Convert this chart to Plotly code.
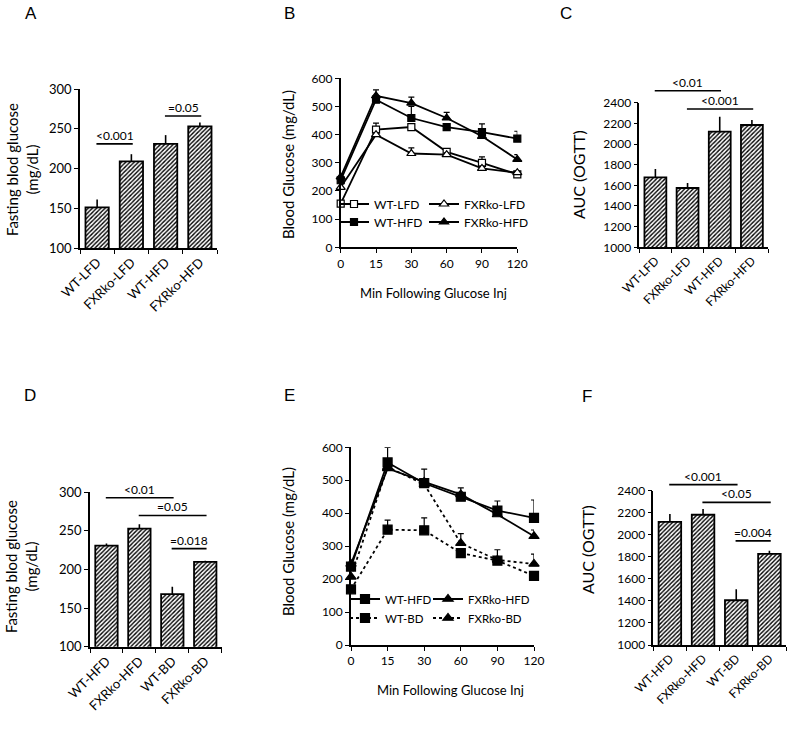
import plotly.graph_objects as go

# ---------------- data ----------------
cats_AC = ["WT-LFD", "FXRko-LFD", "WT-HFD", "FXRko-HFD"]
cats_DF = ["WT-HFD", "FXRko-HFD", "WT-BD", "FXRko-BD"]
times = ["0", "15", "30", "60", "90", "120"]

A_vals = [151, 209, 231, 253]
A_err = [10, 9, 11, 5]
C_vals = [1677, 1574, 2119, 2184]
C_err = [81, 49, 146, 48]
D_vals = [231, 253, 168, 210]
D_err = [2.6, 5.7, 9.5, 1.3]
F_vals = [2118, 2182, 1406, 1827]
F_err = [70, 51, 100, 28]

B_wt_lfd = [155, 418, 427, 339, 300, 259]
B_wt_lfd_err = [0, 23, 8, 10, 21, 6]
B_fxr_lfd = [213, 400, 333, 329, 280, 265]
B_fxr_lfd_err = [0, 6, 20, 6, 8, 5]
B_wt_hfd = [238, 524, 459, 427, 409, 386]
B_wt_hfd_err = [0, 8, 41, 8, 29, 26]
B_fxr_hfd = [250, 538, 512, 459, 394, 312]
B_fxr_hfd_err = [0, 21, 21, 20, 8, 17]

E_wt_hfd = [238, 554, 491, 450, 408, 386]
E_wt_hfd_err = [0, 46, 43, 12, 29, 54]
E_fxr_hfd = [246, 536, 495, 457, 396, 330]
E_fxr_hfd_err = [0, 8, 10, 20, 8, 19]
E_wt_bd = [169, 350, 348, 279, 256, 210]
E_wt_bd_err = [0, 29, 38, 6, 33, 6]
E_fxr_bd = [207, 540, 488, 309, 258, 246]
E_fxr_bd_err = [0, 8, 10, 29, 6, 30]

# significance brackets: (from index, to index, label, bracket height)
A_sig = [(0, 1, "<0.001", 231), (2, 3, "=0.05", 266)]
C_sig = [(0, 2, "<0.01", 2516), (1, 3, "<0.001", 2339)]
D_sig = [(0, 2, "<0.01", 293), (1, 3, "=0.05", 270), (2, 3, "=0.018", 227)]
F_sig = [(0, 2, "<0.001", 2455), (1, 3, "<0.05", 2294), (2, 3, "=0.004", 1945)]

# ---------------- layout helpers ----------------
W, H = 800, 742
FONT = "Lato"


def px_x(x):
    return x / W


def px_y(y):
    return 1 - y / H


def dom_x(a, b):
    return [px_x(a), px_x(b)]


def dom_y(top, bottom):
    return [px_y(bottom), px_y(top)]


fig = go.Figure()

AX = dict(showline=True, linecolor="black", linewidth=1.6, ticks="outside",
          ticklen=4, tickwidth=1.4, tickcolor="black", showgrid=False,
          zeroline=False, automargin=False,
          tickfont=dict(family=FONT, size=12, color="black"))

panels = {
    "A": ("x", "y", (80, 217), (89, 248)),
    "B": ("x2", "y2", (340.7, 517.3), (78.3, 247.3)),
    "C": ("x3", "y3", (639.3, 768), (102.7, 247.3)),
    "D": ("x4", "y4", (90, 221.7), (492.3, 646.7)),
    "E": ("x5", "y5", (351, 534), (447.3, 645)),
    "F": ("x6", "y6", (653.3, 786), (490.7, 645)),
}

bar_specs = {
    "A": (cats_AC, A_vals, A_err, [100, 300], 50, A_sig, 13),
    "C": (cats_AC, C_vals, C_err, [1000, 2400], 200, C_sig, 12),
    "D": (cats_DF, D_vals, D_err, [100, 300], 50, D_sig, 13),
    "F": (cats_DF, F_vals, F_err, [1000, 2400], 200, F_sig, 12),
}

shapes = []
annotations = []

for name, (cats, vals, err, rng, dtick, sigs, fs) in bar_specs.items():
    xk, yk, xd, yd = panels[name]
    fig.add_trace(go.Bar(
        x=cats, y=vals, xaxis=xk, yaxis=yk, width=0.68, showlegend=False,
        marker=dict(color="white", line=dict(color="black", width=1.8),
                    pattern=dict(shape="/", fgcolor="black", bgcolor="white",
                                 size=3, solidity=0.45)),
        error_y=dict(type="data", symmetric=False, array=err,
                     arrayminus=[0] * len(err), color="black", thickness=1.6,
                     width=0),
    ))
    n = len(cats)
    xlay = dict(AX, domain=dom_x(*xd), anchor=yk, type="category",
                range=[-0.5, n - 0.5], tickson="boundaries", tickangle=-45,
                tickfont=dict(family=FONT, size=fs, color="black"))
    ylay = dict(AX, domain=dom_y(*yd), anchor=xk, range=rng, dtick=dtick,
                tickfont=dict(family=FONT, size=fs, color="black"))
    fig.layout["xaxis" + xk[1:]] = xlay
    fig.layout["yaxis" + yk[1:]] = ylay
    for i, j, lab, hgt in sigs:
        fx0 = (i - 0.02 + 0.5) / n
        fx1 = (j + 0.04 + 0.5) / n
        fy = (hgt - rng[0]) / (rng[1] - rng[0])
        shapes.append(dict(type="line", xref=xk + " domain", yref=yk + " domain",
                           x0=fx0, x1=fx1, y0=fy, y1=fy,
                           line=dict(color="black", width=1.6)))
        annotations.append(dict(text=lab, xref=xk + " domain", yref=yk + " domain",
                                x=(fx0 + fx1) / 2, y=fy, xanchor="center",
                                yanchor="bottom", showarrow=False, yshift=-1,
                                font=dict(family=FONT, size=12, color="black")))

# (name, values, errors, symbol, fill, dash, marker size, legend id)
line_specs = {
    "B": [
        ("WT-LFD", B_wt_lfd, B_wt_lfd_err, "square", "white", "solid", 7, "legend"),
        ("FXRko-LFD", B_fxr_lfd, B_fxr_lfd_err, "triangle-up", "white", "solid", 8, "legend2"),
        ("WT-HFD", B_wt_hfd, B_wt_hfd_err, "square", "black", "solid", 7, "legend3"),
        ("FXRko-HFD", B_fxr_hfd, B_fxr_hfd_err, "triangle-up", "black", "solid", 8, "legend4"),
    ],
    "E": [
        ("WT-HFD", E_wt_hfd, E_wt_hfd_err, "square", "black", "solid", 9, "legend5"),
        ("FXRko-HFD", E_fxr_hfd, E_fxr_hfd_err, "triangle-up", "black", "solid", 9, "legend6"),
        ("WT-BD", E_wt_bd, E_wt_bd_err, "square", "black", "dot", 9, "legend7"),
        ("FXRko-BD", E_fxr_bd, E_fxr_bd_err, "triangle-up", "black", "dot", 9, "legend8"),
    ],
}

for name, series in line_specs.items():
    xk, yk, xd, yd = panels[name]
    for lab, vals, err, sym, fill, dash, ms, leg in series:
        fig.add_trace(go.Scatter(
            x=times, y=vals, name=lab, xaxis=xk, yaxis=yk, legend=leg,
            mode="lines+markers", cliponaxis=False,
            line=dict(color="black", width=1.8, dash=dash),
            marker=dict(symbol=sym, size=ms, color=fill,
                        line=dict(color="black", width=1.2)),
            error_y=dict(type="data", symmetric=False, array=err,
                         arrayminus=[0] * len(err), color="black",
                         thickness=1.2, width=3),
        ))
    xlay = dict(AX, domain=dom_x(*xd), anchor=yk, type="category",
                range=[0, len(times) - 1], tickangle=0)
    ylay = dict(AX, domain=dom_y(*yd), anchor=xk, range=[0, 600], dtick=100)
    fig.layout["xaxis" + xk[1:]] = xlay
    fig.layout["yaxis" + yk[1:]] = ylay

# panel letters
for lab, (cx, cy) in {"A": (31, 13), "B": (289, 13), "C": (566, 13),
                      "D": (30, 395), "E": (289, 395), "F": (587, 397)}.items():
    annotations.append(dict(text=lab, xref="paper", yref="paper", x=px_x(cx),
                            y=px_y(cy), xanchor="center", yanchor="middle",
                            showarrow=False,
                            font=dict(family="Liberation Sans", size=17, color="black")))

# axis titles
ytitles = [
    ("Fasting blod glucose<br>(mg/dL)", 22, 170, 15),
    ("Blood Glucose (mg/dL)", 288, 165, 15),
    ("AUC (OGTT)", 578, 175, 16),
    ("Fasting blod glucose<br>(mg/dL)", 21, 567, 15),
    ("Blood Glucose (mg/dL)", 288, 542, 15),
    ("AUC (OGTT)", 587, 550, 16),
]
for t, cx, cy, fs in ytitles:
    annotations.append(dict(text=t, xref="paper", yref="paper", x=px_x(cx),
                            y=px_y(cy), xanchor="center", yanchor="middle",
                            showarrow=False, textangle=-90,
                            font=dict(family=FONT, size=fs, color="black")))
for cx, cy in [(433, 293), (450, 690)]:
    annotations.append(dict(text="Min Following Glucose Inj", xref="paper",
                            yref="paper", x=px_x(cx), y=px_y(cy), xanchor="center",
                            yanchor="middle", showarrow=False,
                            font=dict(family=FONT, size=13, color="black")))

LEG = dict(orientation="h", xanchor="left", yanchor="middle", bgcolor="rgba(0,0,0,0)",
           tracegroupgap=0, itemwidth=30, borderwidth=0)
leg_font_B = dict(family=FONT, size=12, color="black")
leg_font_E = dict(family=FONT, size=11.5, color="black")

fig.update_layout(
    template="none",
    width=W, height=H, autosize=False,
    margin=dict(l=0, r=0, t=0, b=0, pad=0, autoexpand=False),
    paper_bgcolor="white", plot_bgcolor="white",
    shapes=shapes, annotations=annotations,
    legend=dict(LEG, font=leg_font_B, x=px_x(334), y=px_y(204)),
    legend2=dict(LEG, font=leg_font_B, x=px_x(424), y=px_y(204)),
    legend3=dict(LEG, font=leg_font_B, x=px_x(334), y=px_y(222)),
    legend4=dict(LEG, font=leg_font_B, x=px_x(424), y=px_y(222)),
    legend5=dict(LEG, font=leg_font_E, x=px_x(345), y=px_y(599)),
    legend6=dict(LEG, font=leg_font_E, x=px_x(428), y=px_y(599)),
    legend7=dict(LEG, font=leg_font_E, x=px_x(345), y=px_y(618)),
    legend8=dict(LEG, font=leg_font_E, x=px_x(428), y=px_y(618)),
)

fig.write_html(
    "out.html",
    config={"displayModeBar": False},
    post_script="document.body.style.margin='0px';document.body.style.overflow='hidden';",
)
